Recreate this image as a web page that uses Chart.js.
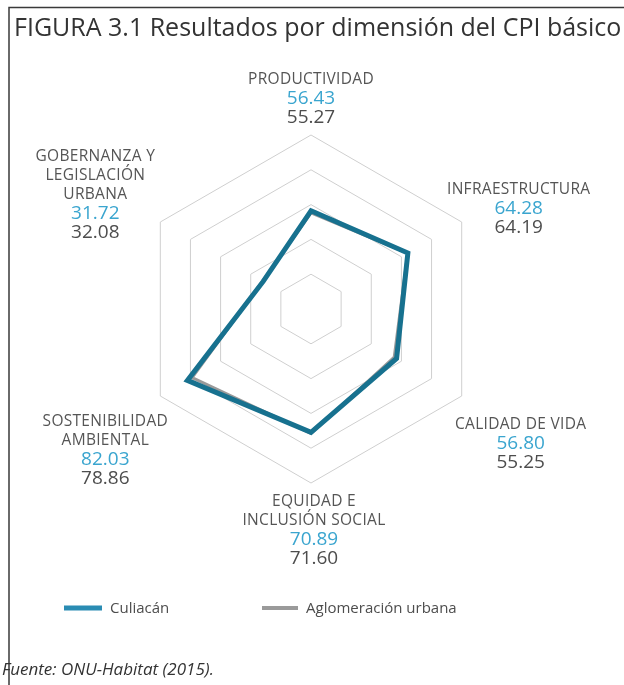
<!DOCTYPE html>
<html><head><meta charset="utf-8">
<script src="https://cdn.jsdelivr.net/npm/chart.js@4"></script>
<style>
html,body{margin:0;padding:0;background:#fff;}
#wrap{position:relative;width:624px;height:685px;overflow:hidden;background:#fff;}
canvas{position:absolute;left:0;top:0;}
</style></head><body>
<div id="wrap"><canvas id="c" width="624" height="685"></canvas></div>
<script>
// ---- data ----
const categories = [['PRODUCTIVIDAD'], ['INFRAESTRUCTURA'], ['CALIDAD DE VIDA'], ['EQUIDAD E', 'INCLUSIÓN SOCIAL'], ['SOSTENIBILIDAD', 'AMBIENTAL'], ['GOBERNANZA Y', 'LEGISLACIÓN', 'URBANA']];
const culiacan = [56.43, 64.28, 56.80, 70.89, 82.03, 31.72];
const aglomeracion = [55.27, 64.19, 55.25, 71.60, 78.86, 32.08];
const seriesNames = ['Culiacán', 'Aglomeración urbana'];
const titleText = 'FIGURA 3.1 Resultados por dimensión del CPI básico';
const sourceText = 'Fuente: ONU-Habitat (2015).';
const scaleMin = 0, scaleMax = 100, scaleStep = 20;

// ---- layout / style ----
const colCul = '#17718f', colCulLegend = '#2a8cb3', colAgl = '#9a9a9a';
const colCat = '#555555', colBlue = '#3aa5cf', colGray = '#4d4d4d';
const labelLayout = [
  {dx: 0, dy: -55}, {dx: 57, dy: -32}, {dx: 59, dy: 29},
  {dx: 3, dy: 19}, {dx: -55, dy: 26}, {dx: -65, dy: -65}
];
const lineStep = 19;

const decor = {
  id: 'decor',
  afterDraw(chart) {
    const ctx = chart.ctx;
    const scale = chart.scales.r;
    ctx.save();
    // frame
    ctx.strokeStyle = '#3a3a3a';
    ctx.lineWidth = 1.5;
    ctx.beginPath();
    ctx.moveTo(9, 685); ctx.lineTo(9, 7.5); ctx.lineTo(624, 7.5);
    ctx.stroke();
    // title
    ctx.fillStyle = '#333';
    ctx.textBaseline = 'alphabetic';
    ctx.textAlign = 'left';
    ctx.font = "25px 'Open Sans'";
    ctx.fillText(titleText, 14, 36);
    // point labels
    ctx.textAlign = 'center';
    ctx.textBaseline = 'middle';
    categories.forEach((cat, i) => {
      const p = scale.getPointPosition(i, scale.drawingArea);
      const lay = labelLayout[i];
      const x = p.x + lay.dx;
      let y = p.y + lay.dy;
      ctx.font = "15.5px 'Open Sans'";
      try { ctx.letterSpacing = '0.3px'; } catch (e) {}
      ctx.fillStyle = colCat;
      cat.forEach(line => { ctx.fillText(line, x, y); y += lineStep; });
      try { ctx.letterSpacing = '0px'; } catch (e) {}
      ctx.font = "19px 'Open Sans'";
      ctx.fillStyle = colBlue;
      ctx.fillText(culiacan[i].toFixed(2), x, y); y += lineStep;
      ctx.fillStyle = colGray;
      ctx.fillText(aglomeracion[i].toFixed(2), x, y);
    });
    // legend
    const ds = chart.data.datasets;
    const legendItems = [{x: 64, w: 38, h: 5, color: colCulLegend}, {x: 262, w: 36, h: 4, color: colAgl}];
    ctx.textAlign = 'left';
    ctx.font = "15px 'Open Sans'";
    legendItems.forEach((it, k) => {
      ctx.fillStyle = it.color;
      ctx.fillRect(it.x, 608 - it.h / 2, it.w, it.h);
      ctx.fillStyle = colGray;
      ctx.fillText(ds[k].label, it.x + it.w + 8, 609);
    });
    // source
    ctx.font = "italic 17px 'Open Sans'";
    ctx.fillStyle = '#333';
    ctx.fillText(sourceText, 2, 670);
    ctx.restore();
  }
};

new Chart(document.getElementById('c'), {
  type: 'radar',
  data: {
    labels: categories,
    datasets: [
      {label: seriesNames[0], data: culiacan, borderColor: colCul, borderWidth: 5, fill: false, pointRadius: 0, order: 0, borderJoinStyle: 'miter'},
      {label: seriesNames[1], data: aglomeracion, borderColor: colAgl, borderWidth: 3, fill: false, pointRadius: 0, order: 1}
    ]
  },
  options: {
    responsive: false,
    animation: false,
    layout: {padding: {top: 135, bottom: 202, left: 0, right: 2}},
    plugins: {legend: {display: false}, title: {display: false}, tooltip: {enabled: false}},
    scales: {
      r: {
        min: scaleMin, max: scaleMax,
        ticks: {display: false, stepSize: scaleStep},
        angleLines: {display: false},
        grid: {color: '#cfcfcf', lineWidth: 1},
        pointLabels: {display: false}
      }
    }
  },
  plugins: [decor]
});
</script>
</body></html>
